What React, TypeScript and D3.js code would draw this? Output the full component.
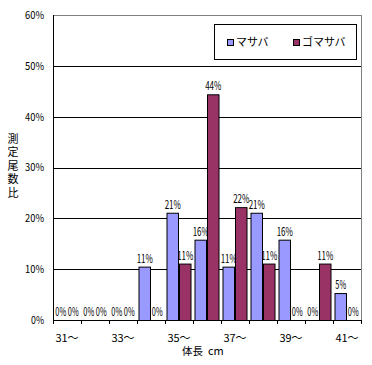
import React from "react";
import * as d3 from "d3";

// 体長階級 (cm)
const categories = ["31", "32", "33", "34", "35", "36", "37", "38", "39", "40", "41"];
const tickLabels = ["31〜", "", "33〜", "", "35〜", "", "37〜", "", "39〜", "", "41〜"];
const series = ["マサバ", "ゴマサバ"];
// 測定尾数比 (%)
const masaba = [0, 0, 0, 10.5, 21.1, 15.8, 10.5, 21.1, 15.8, 0, 5.3];
const gomasaba = [0, 0, 0, 0, 11.1, 44.4, 22.2, 11.1, 0, 11.1, 0];
const yTicks = [0, 10, 20, 30, 40, 50, 60];

const colors = ["#9999FF", "#993366"];
const font = "'Noto Sans CJK JP', sans-serif";

const width = 372;
const height = 365;
const left = 53;
const right = 361;
const top = 15;
const bottom = 320;

const App = () => {
  const x = d3.scaleBand().domain(categories).range([left, right]).paddingInner(0.107).paddingOuter(0.0535);
  const step = (right - left) / categories.length;
  const y = d3.scaleLinear().domain([0, 60]).range([bottom, top]);
  const bw = x.bandwidth() / 2;
  const fmt = d3.format(".0f");

  const bars = categories.flatMap((c, i) =>
    [masaba[i], gomasaba[i]].map((v, s) => ({ c, v, s, x0: (x(c) as number) + s * bw }))
  );

  return (
    <svg width={width} height={height} style={{ position: "absolute", left: 0, top: 0 }} fontFamily={font}>
      <rect width={width} height={height} fill="#fff" />
      {/* grid */}
      {yTicks.slice(1, -1).map(t => (
        <line key={t} x1={left} x2={right} y1={Math.round(y(t)) + 0.5} y2={Math.round(y(t)) + 0.5} stroke="#000" />
      ))}
      <line x1={left} x2={right + 0.5} y1={top + 0.5} y2={top + 0.5} stroke="#808080" />
      <line x1={right + 0.5} x2={right + 0.5} y1={top} y2={bottom} stroke="#808080" />
      {yTicks.map(t => (
        <text key={t} x={44} y={y(t)} dy="0.35em" textAnchor="end" fontSize={11}
          textLength={String(t).length * 6 + 7} lengthAdjust="spacingAndGlyphs">
          {t}%
        </text>
      ))}
      {/* labels first, bars drawn over them as in the original */}
      {bars.map((b, i) => {
        const s = fmt(b.v) + "%";
        return (
          <text key={"l" + i} x={b.x0 + bw / 2} y={y(b.v) - 4} textAnchor="middle" fontSize={11.5}
            textLength={s.length * 5.4} lengthAdjust="spacingAndGlyphs">
            {s}
          </text>
        );
      })}
      {bars.filter(b => b.v > 0).map((b, i) => (
        <rect key={"b" + i} x={b.x0 + 0.5} y={y(b.v) + 0.5} width={bw - 1} height={bottom - y(b.v)}
          fill={colors[b.s]} stroke="#000" />
      ))}
      {/* axes */}
      <line x1={left + 0.5} x2={left + 0.5} y1={top} y2={bottom + 1} stroke="#000" />
      <line x1={left} x2={right + 1} y1={bottom + 0.5} y2={bottom + 0.5} stroke="#000" />
      {d3.range(categories.length + 1).map(i => (
        <line key={i} x1={Math.round(left + i * step) + 0.5} x2={Math.round(left + i * step) + 0.5}
          y1={bottom} y2={bottom + 4} stroke="#000" />
      ))}
      {categories.map((c, i) => (
        <text key={c} x={(x(c) as number) + x.bandwidth() / 2} y={338} dy="0.35em" textAnchor="middle" fontSize={11}>
          {tickLabels[i]}
        </text>
      ))}
      <text x={182} y={351} dy="0.35em" fontSize={10.5}>体長</text>
      <text x={208} y={351} dy="0.35em" fontSize={11}>cm</text>
      {"測定尾数比".split("").map((ch, i) => (
        <text key={i} x={13} y={139 + i * 13.5} dy="0.35em" textAnchor="middle" fontSize={11}>{ch}</text>
      ))}
      {/* legend */}
      <rect x={214.5} y={24.5} width={142} height={35} fill="#fff" stroke="#000" />
      {series.map((s, i) => (
        <g key={s} transform={`translate(${i === 0 ? 227 : 293},42)`}>
          <rect x={0.5} y={-2.5} width={6} height={6} fill={colors[i]} stroke="#000" />
          <text x={9} y={0} dy="0.35em" fontSize={11}>{s}</text>
        </g>
      ))}
    </svg>
  );
};

export default App;
